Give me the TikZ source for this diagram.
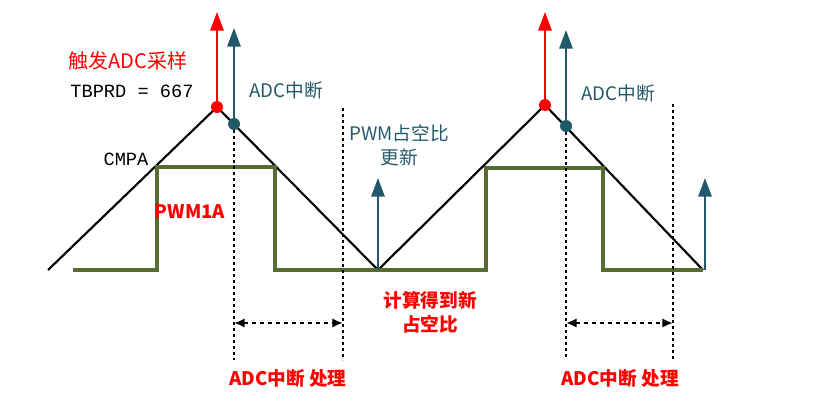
\documentclass[tikz,border=0pt]{standalone}
\usepackage{fontspec}
\setmainfont{Liberation Mono}
\newfontfamily\cjk{Noto Sans CJK SC}
\usetikzlibrary{arrows.meta}
\definecolor{tl}{HTML}{22596A}
\definecolor{gr}{HTML}{556B2F}
\begin{document}
\begin{tikzpicture}[x=0.75pt,y=-0.75pt,
 tri/.style={black,line width=1.6pt},
 pwm/.style={gr,line width=2.4pt},
 up/.style={line width=1.5pt,-{Triangle[width=10pt,length=14pt]}},
 dot/.style={circle,inner sep=0pt,minimum size=9pt,fill=#1},
 vd/.style={black,line width=1.5pt,dash pattern=on 2pt off 2.5pt},
 dd/.style={black,line width=1.8pt,dash pattern=on 3pt off 3pt,{Latex[length=8pt,width=7pt]}-{Latex[length=8pt,width=7pt]}},
 lab/.style={inner sep=1pt,font=\fontsize{14}{16}\selectfont},
 rb/.style={inner sep=1pt,red,font=\cjk\bfseries\fontsize{14}{18}\selectfont,align=center}]
\useasboundingbox (0,0) rectangle (831,418);
% triangle
\coordinate (t0) at (48,270); \coordinate (p1) at (217,107);
\coordinate (v1) at (378,270); \coordinate (p2) at (545,105);
\coordinate (t1) at (703,270);
\draw[tri] (t0)--(p1)--(v1)--(p2)--(t1);
% pwm
\draw[pwm] (73,270)--(157,270)--(157,167)--(275,167)--(275,270)--(486,270)--(486,168)--(603,168)--(603,270)--(703,270);
% dots and arrows
\node[dot=red] (r1) at (217,107) {};
\node[dot=tl] (b1) at (234,124) {};
\node[dot=red] (r2) at (545,105) {};
\node[dot=tl] (b2) at (566,126) {};
\coordinate (r1t) at (217,12); \coordinate (b1t) at (234,28);
\coordinate (r2t) at (545,12); \coordinate (b2t) at (566,30);
\draw[up,red] (r1)--(r1t);
\draw[up,tl] (b1)--(b1t);
\draw[up,red] (r2)--(r2t);
\draw[up,tl] (b2)--(b2t);
\coordinate (u1) at (378,270); \coordinate (u1t) at (378,178);
\coordinate (u2) at (705,270); \coordinate (u2t) at (705,178);
\draw[up,tl] (u1)--(u1t);
\draw[up,tl] (u2)--(u2t);
% dotted lines
\coordinate (d1b) at (234,360); \coordinate (d2t) at (343,108); \coordinate (d2b) at (343,360);
\coordinate (d3b) at (566,360); \coordinate (d4t) at (673,104); \coordinate (d4b) at (673,360);
\draw[vd] (b1)--(d1b); \draw[vd] (d2t)--(d2b);
\draw[vd] (b2)--(d3b); \draw[vd] (d4t)--(d4b);
\coordinate (h1) at (234,323); \coordinate (h2) at (343,323);
\coordinate (h3) at (566,323); \coordinate (h4) at (673,323);
\draw[dd] (h1)--(h2); \draw[dd] (h3)--(h4);
% labels
\node[lab,red,font=\cjk\fontsize{15}{17}\selectfont] (l1) at (128,61) {触发ADC采样};
\node[lab] (l2) at (132,91) {TBPRD = 667};
\node[lab,tl,font=\cjk\fontsize{14}{16}\selectfont] (l3) at (286,90) {ADC中断};
\node[lab,tl,font=\cjk\fontsize{14}{16}\selectfont] (l4) at (618,93) {ADC中断};
\node[lab,tl,align=center,font=\cjk\fontsize{14}{18}\selectfont] (l5) at (399,145) {PWM占空比\\更新};
\node[lab] (l6) at (126,159) {CMPA};
\node[rb] (l7) at (190,212) {PWM1A};
\node[rb] (l8) at (430,312) {计算得到新\\占空比};
\node[rb] (l9) at (288,378) {ADC中断 处理};
\node[rb] (l10) at (620,378) {ADC中断 处理};
\end{tikzpicture}
\end{document}
